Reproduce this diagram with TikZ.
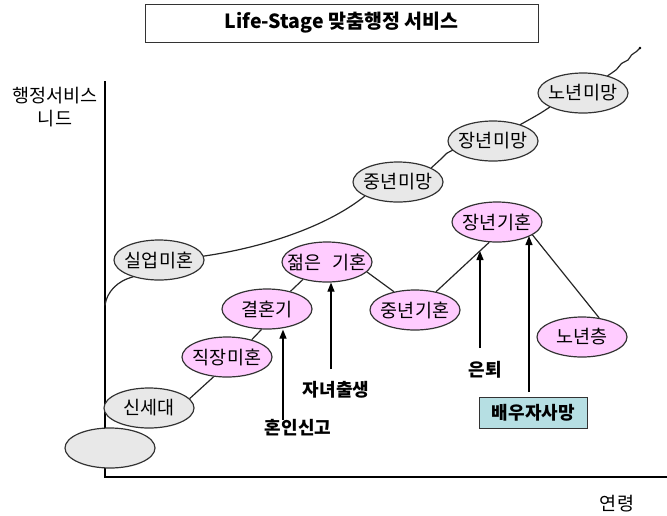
\documentclass[tikz,border=0pt]{standalone}
\usepackage{fontspec}
\setmainfont{Noto Sans CJK KR}
\usetikzlibrary{shapes.geometric,arrows.meta,calc}
\definecolor{grayfill}{HTML}{E8E8E8}
\definecolor{pinkfill}{HTML}{FFCCFF}
\definecolor{cyanfill}{HTML}{B6DFE3}
\definecolor{edgecol}{HTML}{333333}
\begin{document}
\begin{tikzpicture}[x=1pt,y=-1pt,
  stage/.style={ellipse, draw=edgecol, line width=1.2pt, minimum width=90pt, minimum height=40pt, inner sep=0pt},
  stagetext/.style={font=\fontsize{18.5}{20}\selectfont, inner sep=0pt},
  single/.style={stage, fill=grayfill},
  married/.style={stage, fill=pinkfill},
  link/.style={draw=black!85, line width=1.2pt},
  wave/.style={draw=black!85, line width=1.2pt, line cap=round},
  event/.style={draw=black, line width=1.2pt, -{Triangle[length=9pt,width=7pt]}},
  evlabel/.style={font=\bfseries\fontsize{18}{20}\selectfont, inner sep=0pt},
  axlabel/.style={font=\fontsize{18.5}{23.5}\selectfont, inner sep=0pt},
  axisline/.style={draw=black, line width=1.3pt},
]
\useasboundingbox (0,0) rectangle (667,515);

% title
\node[draw=edgecol, line width=1pt, minimum width=393pt, minimum height=38pt, inner sep=0pt,
      font=\bfseries\fontsize{19.5}{20}\selectfont] (title) at (341.5,23) {Life-Stage 맞춤행정 서비스};

% axes
\coordinate (ytop) at (105,81);
\coordinate (origin) at (105,477);
\coordinate (xend) at (667,477);
\draw[axisline] (ytop) -- (origin) -- (xend);
\node[axlabel, align=center] (ylab) at (55,107) {행정서비스\\니드};
\node[axlabel] (xlab) at (617,504) {연령};

% unmarried / widowed stages (gray)
\node[single] (blank) at (110,448) {};
\node[single, label={[stagetext]center:신세대}] (ssd) at (149,408) {};
\node[single, label={[stagetext]center:실업미혼}] (sil) at (159,260) {};
\node[single, label={[stagetext]center:중년미망}] (jmm) at (398,182) {};
\node[single, label={[stagetext]center:장년미망}] (jnm) at (493,141) {};
\node[single, label={[stagetext]center:노년미망}] (nmm) at (583,93) {};

% married stages (pink)
\node[married, label={[stagetext]center:직장미혼}] (jjm) at (227,357) {};
\node[married, label={[stagetext]center:결혼기}] (gh) at (267,309) {};
\node[married, label={[stagetext]center:젊은\hspace{6pt} 기혼}] (jgh) at (327,262) {};
\node[married, label={[stagetext]center:중년기혼}] (jnk) at (415,310) {};
\node[married, label={[stagetext]center:장년기혼}] (jgk) at (497,222) {};
\node[married, label={[stagetext]center:노년층}] (ny) at (582,337) {};

% straight links
\draw[link] (ssd.13) -- (jjm.236);
\draw[link] (jjm.35) -- (gh.255);
\draw[link] (gh.37) -- (jgh.216);
\draw[link] (jgh.346) -- (jnk.139);
\draw[link] (jnk.41) -- (jgk.249);
\draw[link] (jgk.340) -- (ny.48);

% wavy curve of the unmarried/widowed path
\coordinate (wstart) at (105,305);
\coordinate (wend) at (640,48);
\draw[wave] (wstart) .. controls (107,292) and (117,281) .. (sil.213);
\draw[wave] (sil.5) .. controls (260,248) and (325,228) .. (jmm.203);
\draw[wave] plot[smooth] coordinates {(jmm.23) (441.5,158.5) (446.5,153.5) (jnm.193)};
\draw[wave] plot[smooth] coordinates {(jnm.31) (533,117.5) (541.5,112.5) (nmm.203)};
\draw[wave] plot[smooth] coordinates {(nmm.35) (616.5,69.5) (621.5,63.5) (628,60) (631.5,55) (636.5,51.5) (wend)};
\fill[black] (wend) circle (1.4pt);

% life events
\node[evlabel] (hi) at (298,428) {혼인신고};
\node[evlabel] (jn) at (336,390) {자녀출생};
\node[evlabel] (et) at (485,370) {은퇴};
\node[draw=edgecol, fill=cyanfill, line width=1pt, minimum width=108pt, minimum height=31pt, inner sep=0pt,
      font=\bfseries\fontsize{18}{20}\selectfont] (death) at (533.3,413) {배우자사망};

\coordinate (e1) at (283,420);
\coordinate (e2) at (331,369);
\coordinate (e3) at (480,348);
\coordinate (e4) at (529,392);
\coordinate (e3tip) at (480,251);
\draw[event] (e1) -- (e1 |- gh.south);
\draw[event] (e2) -- (e2 |- jgh.south);
\draw[event] (e3) -- (e3tip);
\draw[event] (e4) -- (529,236);
\end{tikzpicture}
\end{document}
